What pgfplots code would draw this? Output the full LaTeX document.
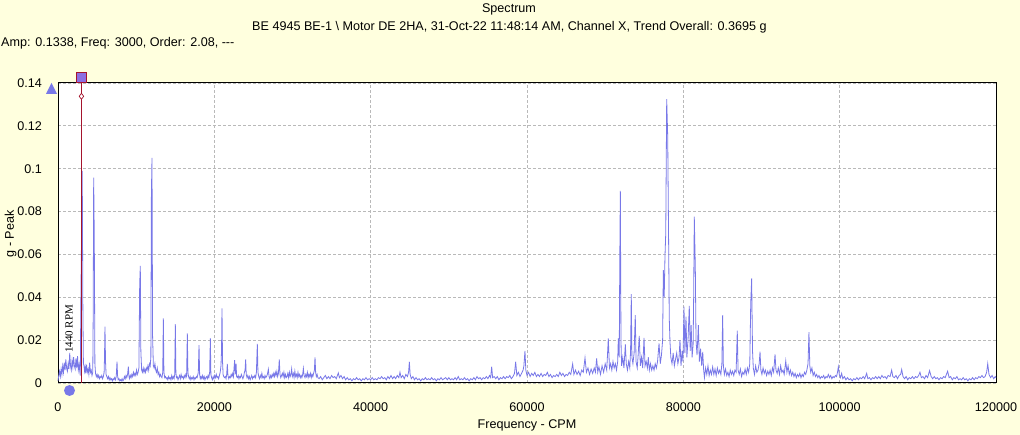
\documentclass[border=0pt]{standalone}
\usepackage{fontspec}
\setmainfont{Liberation Sans}
\newfontfamily\serifrpm{Liberation Serif}
\usepackage{pgfplots}
\pgfplotsset{compat=1.18}
\definecolor{bgy}{RGB}{255,255,222}
\definecolor{specblue}{RGB}{120,120,232}
\definecolor{cursorred}{RGB}{165,20,45}
\definecolor{gridgray}{RGB}{185,185,185}
\definecolor{markpurple}{RGB}{140,110,225}
\begin{document}
\begin{tikzpicture}[x=1bp,y=1bp]
\fill[bgy] (0,0) rectangle (1020,435);
\useasboundingbox (0,0) rectangle (1020,435);
\begin{axis}[at={(58bp,52bp)}, anchor=south west, scale only axis,
  width=938bp, height=300bp, xmin=0, xmax=120, ymin=0, ymax=140,
  axis background/.style={fill=white},
  xtick={0,20,40,60,80,100,120},
  xticklabels={0,20000,40000,60000,80000,100000,120000},
  ytick={0,20,40,60,80,100,120,140},
  yticklabels={0,0.02,0.04,0.06,0.08,0.1,0.12,0.14},
  major tick length=0pt, grid=major,
  major grid style={gridgray, dash pattern=on 3bp off 2bp, line width=0.8bp},
  axis line style={black, line width=1bp},
  ticklabel style={font=\fontsize{12.6bp}{15bp}\selectfont, inner sep=0pt},
  xticklabel style={anchor=north, yshift=-20bp},
  yticklabel style={anchor=east, xshift=-16bp},
  /pgf/number format/assume math mode=true,
  clip=false]
\addplot[specblue, line width=0.8bp, mark=none] coordinates {
(0,1.0)(0.1,3.5)(0.2,5.5)(0.3,3.0)(0.4,6.5)(0.5,4.0)(0.6,8.0)(0.7,5.0)(0.8,9.5)(0.9,6.0)
(1.0,11.0)(1.1,7.0)(1.2,5.5)(1.3,9.0)(1.4,6.5)(1.5,14.0)(1.6,8.0)(1.7,6.0)(1.8,10.5)(1.9,7.5)
(2.0,12.0)(2.1,8.0)(2.2,6.5)(2.3,11.5)(2.4,7.0)(2.5,12.5)(2.6,6.0)(2.7,8.5)(2.8,5.0)(2.85,3.5)
(2.925,38)(3.1,99)(3.18,36)(3.25,9)(3.32,8)(3.4,5.5)(3.47,7.5)(3.55,4.5)(3.65,8.5)(3.75,5)
(3.85,6.5)(3.95,4.0)(4.05,9.5)(4.15,5.0)(4.25,6.0)(4.35,3.5)(4.45,5.0)(4.5,30)(4.565,95.8)(4.64,68)
(4.72,9)(4.8,4.5)(4.9,3.0)(5.0,4.0)(5.1,2.5)(5.2,3.5)(5.3,2.0)(5.4,3.0)(5.5,2.5)(5.6,3.5)
(5.7,2.0)(5.8,3.0)(5.9,5.0)(5.95,12)(6.01,26.3)(6.08,10)(6.15,4)(6.25,3.0)(6.35,2.0)(6.45,3.0)
(6.55,1.5)(6.65,2.5)(6.75,1.5)(6.85,2.0)(6.95,1.0)(7.05,2.0)(7.15,1.5)(7.25,2.5)(7.35,1.5)(7.45,3)
(7.55,10)(7.62,3.5)(7.7,1.5)(7.8,2.0)(7.9,1.0)(8.0,1.5)(8.1,1.0)(8.2,2.0)(8.3,1.0)(8.4,1.5)
(8.5,3)(8.6,2)(8.7,3.5)(8.8,2.5)(8.9,4)(9.0,7.6)(9.08,3)(9.15,2)(9.25,3.5)(9.35,2.5)
(9.45,4)(9.55,3)(9.65,5)(9.75,3.5)(9.85,4.5)(9.95,3.5)(10.05,6)(10.15,4)(10.25,5)(10.35,7)
(10.45,46)(10.53,54.6)(10.6,15)(10.7,6)(10.8,5)(10.9,7)(11.0,5)(11.1,6.5)(11.2,5)(11.3,7)
(11.4,6)(11.5,8)(11.6,6)(11.7,9)(11.8,8)(11.88,12)(11.95,88.5)(12.025,105)(12.1,22)(12.2,8)
(12.3,7)(12.4,9)(12.5,6)(12.6,5)(12.7,7)(12.8,4)(12.9,5)(13.0,3)(13.1,4)(13.2,3)
(13.3,2.5)(13.4,5)(13.475,30.2)(13.55,5)(13.65,2.5)(13.75,3)(13.85,2)(13.95,2.5)(14.05,1.5)(14.15,3)
(14.25,2)(14.35,2.5)(14.45,1.5)(14.55,3.5)(14.65,2)(14.75,3)(14.85,2)(14.93,4)(15.01,27.5)(15.08,5)
(15.15,2.5)(15.25,3)(15.35,1.5)(15.45,2.5)(15.55,3.5)(15.65,2)(15.75,4)(15.85,2.5)(15.95,3)(16.05,2)
(16.15,3.5)(16.25,2.5)(16.35,4)(16.45,3)(16.545,23.2)(16.62,5)(16.7,3)(16.8,2)(16.9,3)(17.0,1.5)
(17.1,2.5)(17.2,2)(17.3,3)(17.4,1.5)(17.5,2.5)(17.6,2)(17.7,3)(17.8,2.5)(17.95,5)(18.04,17.7)
(18.12,4)(18.2,2)(18.3,3)(18.4,2)(18.5,3.5)(18.6,2)(18.7,3)(18.8,1.5)(18.9,2.5)(19.0,3)
(19.1,2)(19.2,3.5)(19.3,2.5)(19.4,5)(19.49,20.8)(19.56,4)(19.65,2.5)(19.75,1.5)(19.85,3)(19.95,2)
(20.05,3.5)(20.15,2.5)(20.25,4)(20.35,2.5)(20.45,3)(20.55,2)(20.65,3.5)(20.75,5)(20.85,8)(20.92,15)
(20.98,34.8)(21.05,10)(21.12,4)(21.2,3)(21.3,2.5)(21.4,3)(21.5,2)(21.58,4)(21.66,8.9)(21.74,3.5)
(21.85,2)(21.95,3)(22.05,2.5)(22.15,4)(22.25,3)(22.35,4.5)(22.45,3)(22.52,7)(22.6,10.7)(22.68,4)
(22.78,9)(22.85,3)(22.95,2.5)(23.05,3.5)(23.15,2)(23.25,3)(23.35,2.5)(23.45,4)(23.55,3)(23.65,2)
(23.75,3)(23.85,5)(23.93,6)(24.01,11)(24.08,4)(24.18,2.5)(24.28,3.5)(24.38,2)(24.48,3)(24.58,1.5)
(24.68,2.5)(24.78,3.5)(24.88,2)(24.98,3)(25.08,2.5)(25.18,3.5)(25.28,2.5)(25.38,5)(25.5,18.2)(25.58,5)
(25.68,3)(25.78,2)(25.88,3.5)(25.98,2.5)(26.08,4.5)(26.18,2.5)(26.28,3)(26.38,2)(26.48,3.5)(26.58,2.5)
(26.68,3)(26.78,4)(26.91,6.4)(27.0,3)(27.1,2)(27.2,3.5)(27.3,2.5)(27.4,4)(27.5,3)(27.6,4.5)
(27.7,3)(27.8,5)(27.9,3.5)(28.0,5.5)(28.1,3)(28.2,4.5)(28.31,11)(28.4,4)(28.5,2.5)(28.6,3.5)
(28.7,4.5)(28.8,3)(28.9,5)(29.0,2.5)(29.1,4)(29.2,2.5)(29.3,3)(29.4,4.5)(29.5,2.5)(29.6,5)
(29.7,3)(29.8,4)(29.89,6.6)(29.98,3)(30.1,4.5)(30.2,2.5)(30.3,5.5)(30.4,3)(30.5,4)(30.6,2.5)
(30.7,5)(30.8,3)(30.9,4)(31.0,2.5)(31.1,3.5)(31.2,2.5)(31.3,4)(31.39,6.8)(31.48,3.5)(31.6,2.5)
(31.7,4)(31.8,3)(31.9,5)(32.0,2.5)(32.1,4)(32.2,3)(32.3,4.5)(32.4,2.5)(32.5,4)(32.6,3)
(32.7,4.5)(32.8,6)(32.88,12)(32.96,5)(33.05,3)(33.15,4)(33.25,2.5)(33.4,2)(33.6,3)(33.8,1.5)
(34.0,2.5)(34.2,3.5)(34.4,2)(34.6,3)(34.8,2)(35.0,3.5)(35.2,2.5)(35.4,3)(35.6,2)(35.86,4.7)
(36.0,2.5)(36.2,3.5)(36.4,2)(36.6,3)(36.8,1.5)(37.0,2.5)(37.2,1.5)(37.4,2)(37.6,1)(37.8,2)
(38.0,1.5)(38.2,2.5)(38.4,1.5)(38.6,2)(38.8,1)(39.0,2)(39.2,1.5)(39.4,2.5)(39.6,1.5)(39.8,2)
(40.0,1.5)(40.2,2.5)(40.4,1.5)(40.6,2)(40.8,1.5)(41.0,2.5)(41.2,2)(41.4,3)(41.6,2)(41.8,2.5)
(42.0,1.5)(42.2,3)(42.4,2)(42.6,3.5)(42.8,2)(43.0,3)(43.2,2)(43.4,3.5)(43.6,2.5)(43.75,5)
(43.9,2.5)(44.1,3.5)(44.3,2)(44.5,4)(44.7,3)(44.85,5)(44.95,9.9)(45.05,4)(45.2,2)(45.4,3)
(45.6,1.5)(45.8,2.5)(46.0,1.5)(46.2,2)(46.4,1)(46.6,2)(46.8,1.5)(47.0,2.5)(47.2,1.5)(47.4,2)
(47.6,1.5)(47.8,2.5)(48.0,1.5)(48.2,2)(48.4,1)(48.6,2)(48.8,1.5)(49.0,2.5)(49.2,1.5)(49.4,2)
(49.6,2.5)(49.8,1.5)(50.0,2.5)(50.2,1.5)(50.4,2)(50.6,1.5)(50.8,2.5)(51.0,1.5)(51.2,3)(51.4,1.5)
(51.6,2)(51.8,1.5)(52.0,2.5)(52.2,1.5)(52.4,2)(52.6,1)(52.8,2)(53.0,1.5)(53.2,2.5)(53.4,1.5)
(53.6,3)(53.8,2)(54.0,2.5)(54.2,1.5)(54.4,2.5)(54.6,2)(54.8,3)(55.0,2)(55.2,3.5)(55.35,2.5)
(55.48,7.6)(55.6,2.5)(55.8,3)(56.0,2)(56.2,3)(56.4,1.5)(56.6,2.5)(56.8,2)(57.0,3)(57.2,2)
(57.4,3)(57.6,2.5)(57.8,3.5)(58.0,2)(58.2,3)(58.4,4.5)(58.55,9.9)(58.7,3.5)(58.9,5)(59.1,3)
(59.3,4.5)(59.5,6)(59.6,8)(59.74,15)(59.85,6)(60.0,3.5)(60.2,5)(60.4,3)(60.6,4.5)(60.8,3.5)
(61.0,5)(61.2,3)(61.4,4)(61.6,3)(61.8,4.5)(62.0,3)(62.2,4)(62.4,3.5)(62.6,5)(62.8,3)
(63.0,4)(63.2,2.5)(63.4,3.5)(63.6,3)(63.8,4)(64.0,3)(64.2,5)(64.4,3.5)(64.6,4.5)(64.8,3)
(65.0,4)(65.2,3.5)(65.4,5)(65.6,4)(65.84,8.9)(66.0,4)(66.2,6)(66.4,4)(66.6,5.5)(66.8,3.5)
(67.0,6)(67.2,5)(67.42,11.7)(67.6,5)(67.8,7)(68.0,4)(68.2,6.5)(68.4,4.5)(68.6,7)(68.75,5)
(68.91,11.5)(69.05,5)(69.2,7.5)(69.4,4)(69.6,8)(69.8,5)(70.0,9)(70.2,6)(70.4,20.8)(70.55,7)
(70.7,9)(70.85,6)(71.0,10)(71.15,7)(71.3,9)(71.45,6)(71.6,10)(71.68,20.8)(71.8,12)(71.87,58)
(71.94,89.7)(72.02,20)(72.1,8)(72.25,12)(72.4,7)(72.58,18)(72.7,9)(72.85,6)(73.0,10)(73.15,7)
(73.25,15)(73.34,41.5)(73.42,12)(73.55,9)(73.7,14)(73.85,31.7)(73.95,10)(74.1,7)(74.2,12)(74.36,22)
(74.5,8)(74.65,12)(74.8,7)(74.97,21)(75.1,8)(75.25,10)(75.4,7)(75.52,12)(75.65,6)(75.8,9)
(75.95,6)(76.1,8)(76.25,6)(76.4,9)(76.55,7)(76.7,10)(76.89,18.5)(77.05,9)(77.2,13)(77.35,20)
(77.44,52.7)(77.55,40)(77.65,59)(77.75,70)(77.87,132.5)(78.0,115)(78.12,64.4)(78.2,30)(78.29,19.3)(78.4,12)
(78.55,9)(78.7,14)(78.85,8)(79.0,11)(79.15,14)(79.3,9)(79.45,12)(79.57,20)(79.7,8)(79.85,15)
(79.95,10)(80.08,35.6)(80.2,14)(80.34,31)(80.45,12)(80.6,20)(80.76,36)(80.88,15)(81.0,27)(81.12,12)
(81.25,18)(81.32,40)(81.4,77.6)(81.53,54)(81.62,20)(81.75,13)(81.92,27)(82.05,10)(82.2,16)(82.35,8)
(82.48,14.5)(82.6,6)(82.7,2.5)(82.85,7)(83.0,4)(83.15,8)(83.3,3.5)(83.45,6)(83.6,4)(83.75,7.5)
(83.9,4)(84.05,6.5)(84.2,3.5)(84.35,7)(84.5,4.5)(84.65,6)(84.8,4)(84.93,9)(85.03,31.7)(85.12,8)
(85.25,4)(85.4,6.5)(85.55,3.5)(85.7,5)(85.85,3)(86.0,6)(86.15,4)(86.3,5.5)(86.45,3.5)(86.6,6)
(86.75,5)(86.9,24.4)(87.0,6)(87.15,4)(87.3,6.5)(87.45,3)(87.6,5)(87.75,4)(87.9,6.5)(88.05,4)
(88.2,7)(88.35,5)(88.5,9)(88.62,37)(88.74,48.8)(88.85,15)(88.95,7)(89.1,4)(89.25,8)(89.4,5)
(89.55,6)(89.7,9)(89.81,14.6)(89.92,6)(90.05,4)(90.2,7)(90.35,4.5)(90.5,6)(90.65,3.5)(90.8,5.5)
(90.95,4)(91.1,6)(91.25,3.5)(91.4,7)(91.55,5)(91.73,13.3)(91.85,6)(92.0,4.5)(92.15,7)(92.3,4)
(92.45,8)(92.6,5)(92.75,6)(92.9,4)(93.1,10.3)(93.25,5)(93.4,8)(93.55,4)(93.7,6)(93.85,3.5)
(94.0,5)(94.15,3)(94.3,4.5)(94.45,2.5)(94.6,4)(94.75,3)(94.9,4.5)(95.05,2.5)(95.2,4)(95.35,3)
(95.5,5)(95.65,4)(95.8,6)(95.95,9)(96.07,23.7)(96.18,8)(96.3,5)(96.45,7)(96.6,3.5)(96.75,5)
(96.9,3)(97.05,4)(97.2,2.5)(97.35,3.5)(97.5,2)(97.65,3)(97.8,2.5)(97.95,3.5)(98.1,2)(98.25,3)
(98.4,2.5)(98.55,4)(98.7,2.5)(98.85,3.5)(99.0,2)(99.15,3)(99.3,2.5)(99.45,3.5)(99.6,3)(99.72,5)
(99.83,7.6)(99.95,4)(100.1,2.5)(100.25,4.5)(100.4,2)(100.6,3)(100.8,1.5)(101.0,2.5)(101.2,1.5)(101.4,2)
(101.6,1)(101.8,2)(102.0,1.5)(102.2,2.5)(102.4,1.5)(102.6,2.5)(102.8,2)(103.0,3)(103.2,2)(103.45,4.5)
(103.6,2)(103.8,2.5)(104.0,1.5)(104.2,2.5)(104.4,2)(104.6,3)(104.8,2)(105.0,3)(105.2,2)(105.4,3.5)
(105.6,2.5)(105.8,3)(106.0,2)(106.2,3.5)(106.45,3)(106.65,6)(106.8,3)(107.0,2.5)(107.2,3.5)(107.4,2)
(107.6,3.5)(107.8,4)(107.93,6.3)(108.1,3)(108.3,2)(108.5,3)(108.7,1.5)(108.9,2.5)(109.1,2)(109.3,3)
(109.5,2)(109.7,3)(109.9,2.5)(110.1,3.5)(110.27,5)(110.45,2.5)(110.65,3)(110.85,2)(111.05,3.5)(111.25,2.5)
(111.5,5.8)(111.7,3)(111.9,2)(112.1,3)(112.3,2)(112.5,2.5)(112.7,1.5)(112.9,2.5)(113.1,2)(113.3,3)
(113.5,2.5)(113.81,5.5)(114.0,2.5)(114.2,3)(114.4,1.5)(114.6,2.5)(114.8,2)(115.0,3)(115.2,1.5)(115.4,2)
(115.6,1.5)(115.8,2.5)(116.0,1.5)(116.2,2)(116.4,1)(116.6,2)(116.8,1.5)(117.0,2.5)(117.2,1.5)(117.4,2.5)
(117.6,2)(117.8,3)(118.0,2.5)(118.2,3.5)(118.4,2.5)(118.6,3)(118.8,5)(118.94,9)(119.1,4)(119.3,2.5)
(119.5,3.5)(119.7,2)(119.9,3)(120.0,2.5)
};
\addplot[cursorred, line width=1.3bp, mark=none] coordinates {(3,0) (3,140)};
\addplot[only marks, mark=square*, mark size=5bp, mark options={fill=markpurple, draw=cursorred, line width=0.8bp}] coordinates {(3,142.6)};
\addplot[only marks, mark=diamond*, mark size=3bp, mark options={fill=white, draw=cursorred, line width=0.7bp}] coordinates {(3,133.8)};
\end{axis}
\fill[specblue] (46,341) -- (57,341) -- (51.5,352) -- cycle;
\fill[specblue] (69.5,44.5) circle (5.5);
\node[anchor=base, inner sep=0, font=\fontsize{12.6bp}{15bp}\selectfont] at (509,422.3) {Spectrum};
\node[anchor=base, inner sep=0, font=\fontsize{12.6bp}{15bp}\selectfont] at (509.5,404.5) {BE 4945 BE-1 \textbackslash{} Motor DE 2HA, 31-Oct-22 11:48:14 AM, Channel X, Trend Overall: 0.3695 g};
\node[anchor=base west, inner sep=0, font=\fontsize{12.6bp}{15bp}\selectfont] at (1,388) {Amp: 0.1338, Freq: 3000, Order: 2.08, {-}{-}{-}};
\node[rotate=90, inner sep=0, font=\fontsize{12.6bp}{15bp}\selectfont] at (10.5,201) {g - Peak};
\node[inner sep=0, font=\fontsize{12.6bp}{15bp}\selectfont] at (527,10) {Frequency - CPM};
\node[rotate=90, inner sep=0, font=\serifrpm\fontsize{11bp}{13bp}\selectfont] at (69,106) {1440 RPM};
\end{tikzpicture}
\end{document}
